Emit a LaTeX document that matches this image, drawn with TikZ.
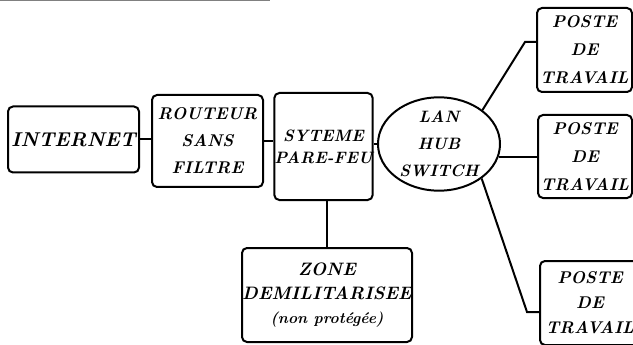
\documentclass[tikz,border=0pt]{standalone}
\usetikzlibrary{shapes.geometric}
\begin{document}
\begin{tikzpicture}[x=1pt,y=-1pt,
  box/.style={draw, line width=2pt, rounded corners=5pt, inner sep=0pt, align=center,
    font=\bfseries\itshape\fontsize{17}{27}\selectfont},
  hubshape/.style={draw, ellipse, line width=2pt, inner sep=0pt, align=center,
    font=\bfseries\itshape\fontsize{16.5}{27}\selectfont},
  poste/.style={box, font=\bfseries\itshape\fontsize{17}{28}\selectfont},
  link/.style={line width=2pt}]
\useasboundingbox (0,0) rectangle (633,345);
\draw[gray, line width=1pt] (0,0.5) -- (270,0.5);
\node[box, minimum width=131pt, minimum height=66pt, font=\bfseries\itshape\fontsize{20}{24}\selectfont] (internet) at (73.5,139.5) {INTERNET};
\node[box, minimum width=111pt, minimum height=92pt] (routeur) at (207.5,141) {ROUTEUR\\SANS\\FILTRE};
\node[box, minimum width=93pt, minimum height=107pt, font=\bfseries\itshape\fontsize{16.5}{22}\selectfont] (syteme) at (323.5,146.5) {SYTEME\\PARE-FEU};
\node[hubshape, minimum width=122pt, minimum height=92pt] (hub) at (439,144) {LAN\\HUB\\SWITCH};
\node[poste, minimum width=95pt, minimum height=84pt] (p1) at (584.5,50) {POSTE\\DE\\TRAVAIL};
\node[poste, minimum width=94pt, minimum height=83pt] (p2) at (585,156.5) {POSTE\\DE\\TRAVAIL};
\node[poste, minimum width=100pt, minimum height=84pt, font=\bfseries\itshape\fontsize{17}{25}\selectfont] (p3) at (590,303) {POSTE\\DE\\TRAVAIL};
\node[box, minimum width=170pt, minimum height=94pt, font=\bfseries\itshape\fontsize{18}{24}\selectfont] (zone) at (327,295) {ZONE\\DEMILITARISEE\\{\fontsize{15.5}{16}\selectfont(non protégée)}};
\coordinate (k1) at (525,42);
\coordinate (k3) at (527,312);
\draw[link] (internet.east) -- (internet.east -| routeur.west);
\draw[link] (routeur.east) -- (routeur.east -| syteme.west);
\draw[link] (hub.west) -- (hub.west -| syteme.east);
\draw[link] (zone.north) -- (zone.north |- syteme.south);
\draw[link] (hub.-12) -- (hub.-12 -| p2.west);
\draw[link] (hub.38) -- (k1) -- (k1 -| p1.west);
\draw[link] (hub.-39) -- (k3) -- (k3 -| p3.west);
\end{tikzpicture}
\end{document}
